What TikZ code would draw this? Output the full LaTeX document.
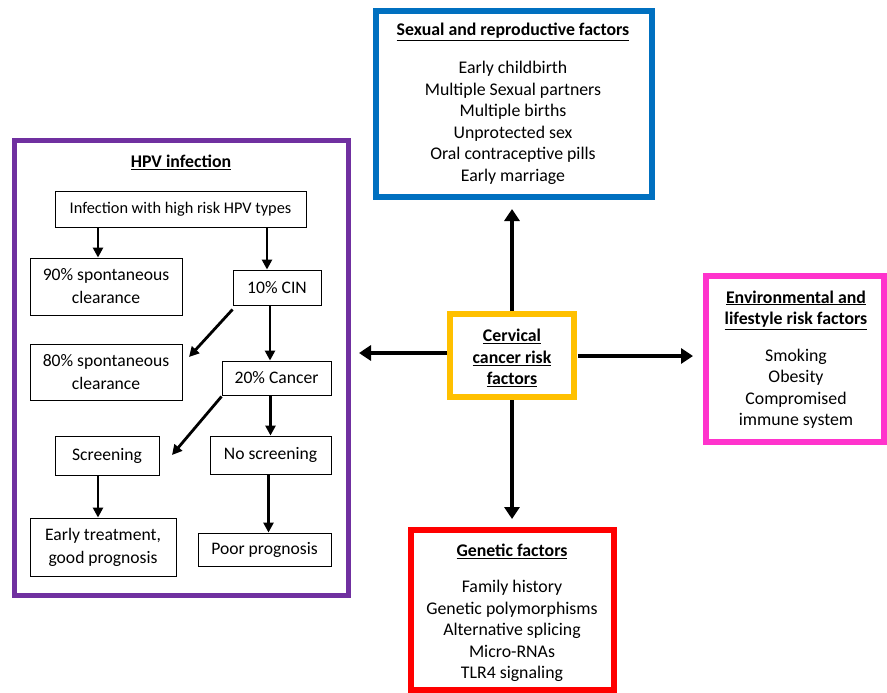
\documentclass[tikz,border=0pt]{standalone}
\usepackage{fontspec}
\setmainfont{Carlito}
\usetikzlibrary{arrows.meta}
\definecolor{hpvpurple}{RGB}{112,48,160}
\definecolor{sexblue}{RGB}{0,112,192}
\definecolor{cengold}{RGB}{255,192,0}
\definecolor{envmag}{RGB}{255,51,204}
\definecolor{genred}{RGB}{255,0,0}
\tikzset{
  bigframe/.style={draw=#1, line width=5.5pt, fill=white},
  smallbox/.style={draw=black, line width=0.9pt, fill=white, align=center, inner sep=0pt, font=\fontsize{17.6}{23}\selectfont},
  flowarrow/.style={line width=2.8pt, -{Triangle[width=10pt,length=10pt]}},
  mainarrow/.style={line width=4.5pt, -{Triangle[width=15pt,length=12pt]}},
  titletext/.style={font=\fontsize{17.8}{21.5}\selectfont\bfseries, align=center, inner sep=0pt},
  listtext/.style={font=\fontsize{17.8}{21.5}\selectfont, align=center, inner sep=0pt}
}
\begin{document}
\begin{tikzpicture}[x=1pt,y=-1pt]
\useasboundingbox (0,0) rectangle (887,693);
\fill[white] (0,0) rectangle (887,693);
% frames
\draw[bigframe=hpvpurple, line width=5pt] (14,140) rectangle (348,595);
\draw[bigframe=sexblue] (376,11) rectangle (652,197);
\draw[bigframe=cengold] (450,314) rectangle (574,397);
\draw[bigframe=envmag] (706,276) rectangle (884,442);
\draw[bigframe=genred] (411,530) rectangle (614,690);
% titles
\node[titletext] (hpvt) at (181,162) {\underline{HPV infection}};
\node[titletext] (sext) at (513,32) {\underline{Sexual and reproductive factors}};
\node[titletext] (cent) at (512,358) {\underline{Cervical}\\\underline{cancer risk}\\\underline{factors}};
\node[titletext] (envt) at (796,310) {\underline{Environmental and}\\\underline{lifestyle risk factors}};
\node[titletext] (gent) at (512,551) {\underline{Genetic factors}};
% lists
\node[listtext] (sexl) at (513,123) {Early childbirth\\Multiple Sexual partners\\Multiple births\\Unprotected sex\\Oral contraceptive pills\\Early marriage};
\node[listtext] (envl) at (796,389) {Smoking\\Obesity\\Compromised\\immune system};
\node[listtext] (genl) at (512,631) {Family history\\Genetic polymorphisms\\Alternative splicing\\Micro-RNAs\\TLR4 signaling};
% flow boxes
\node[smallbox, minimum width=251pt, minimum height=36pt, font=\fontsize{16.3}{21}\selectfont] (inf) at (180.5,209) {Infection with high risk HPV types};
\node[smallbox, minimum width=152pt, minimum height=57pt] (c90) at (106,286.5) {90\% spontaneous\\clearance};
\node[smallbox, minimum width=88pt, minimum height=35pt] (cin) at (277,287.5) {10\% CIN};
\node[smallbox, minimum width=152pt, minimum height=56pt] (c80) at (106,372) {80\% spontaneous\\clearance};
\node[smallbox, minimum width=109pt, minimum height=34pt] (can) at (276.5,378) {20\% Cancer};
\node[smallbox, minimum width=104pt, minimum height=39pt] (scr) at (107,455.5) {Screening};
\node[smallbox, minimum width=121pt, minimum height=38pt] (nos) at (270.5,455) {No screening};
\node[smallbox, minimum width=146pt, minimum height=58pt] (ear) at (103,547) {Early treatment,\\good prognosis};
\node[smallbox, minimum width=133pt, minimum height=33pt] (poo) at (264.5,549.5) {Poor prognosis};
% flow arrows
\coordinate (a80) at (189,357);
\coordinate (ascr) at (172,455);
\draw[flowarrow] (inf.south -| c90.north) ++(-8,0) coordinate (s1) -- (s1 |- c90.north);
\draw[flowarrow] (267,227) coordinate (s2) -- (s2 |- cin.north);
\draw[flowarrow] (cin.south west) ++(0,4) -- (a80);
\draw[flowarrow] (cin.south) ++(-7,0) coordinate (s3) -- (s3 |- can.north);
\draw[flowarrow] (can.south west) ++(0,1) -- (ascr);
\draw[flowarrow] (can.south) ++(-6,0) coordinate (s4) -- (s4 |- nos.north);
\draw[flowarrow] (scr.south) ++(-9,0) coordinate (s5) -- (s5 |- ear.north);
\draw[flowarrow] (nos.south) ++(-2,0) coordinate (s6) -- (s6 |- poo.north);
% main arrows
\coordinate (upend) at (512,209);
\coordinate (downend) at (512,519);
\coordinate (leftend) at (359,353);
\coordinate (rightend) at (693,356);
\draw[mainarrow] (512,311) -- (upend);
\draw[mainarrow] (512,400) -- (downend);
\draw[mainarrow] (447,353) -- (leftend);
\draw[mainarrow] (578,356) -- (rightend);
\end{tikzpicture}
\end{document}
